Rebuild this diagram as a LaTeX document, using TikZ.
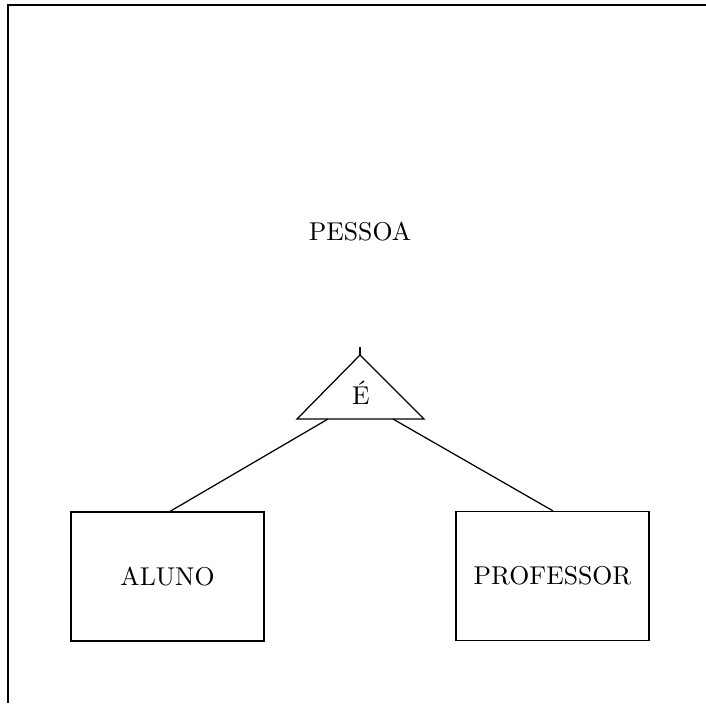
\documentclass[tikz,border=0pt]{standalone}
\begin{document}
\begin{tikzpicture}[x=0.4pt,y=-0.4pt,
  entity/.style={draw,line width=0.5pt,rectangle,minimum width=77.2pt,minimum height=51.6pt,inner sep=0pt},
  label/.style={font=\fontsize{10.3}{12}\selectfont},
  link/.style={line width=0.5pt}]
\useasboundingbox (0,0) rectangle (706,703);

% superclass entity: only its top and left edges lie inside the frame
\draw[line width=0.8pt] (8,703) -- (8,5) -- (706,5);
\node[label] (pessoa) at (360,232) {PESSOA};

% specialisation triangle
\coordinate (apex) at (360,355);
\coordinate (stub) at (360,347);
\coordinate (bl) at (297,419);
\coordinate (br) at (424,419);
\draw[link,line join=miter] (apex) -- (bl) -- (br) -- cycle;
\draw[link] (apex) -- (stub);
\node[label] (isa) at (361,393) {É};
\coordinate (isaL) at (328,419);
\coordinate (isaR) at (393,419);

% subclass entities
\node[entity,label] (aluno) at (167.5,576.5) {ALUNO};
\node[entity,label] (prof) at (552.5,576) {PROFESSOR};

\draw[link] (isaL) -- (aluno.north -| 170,0);
\draw[link] (isaR) -- (prof.north -| 553,0);
\end{tikzpicture}
\end{document}
